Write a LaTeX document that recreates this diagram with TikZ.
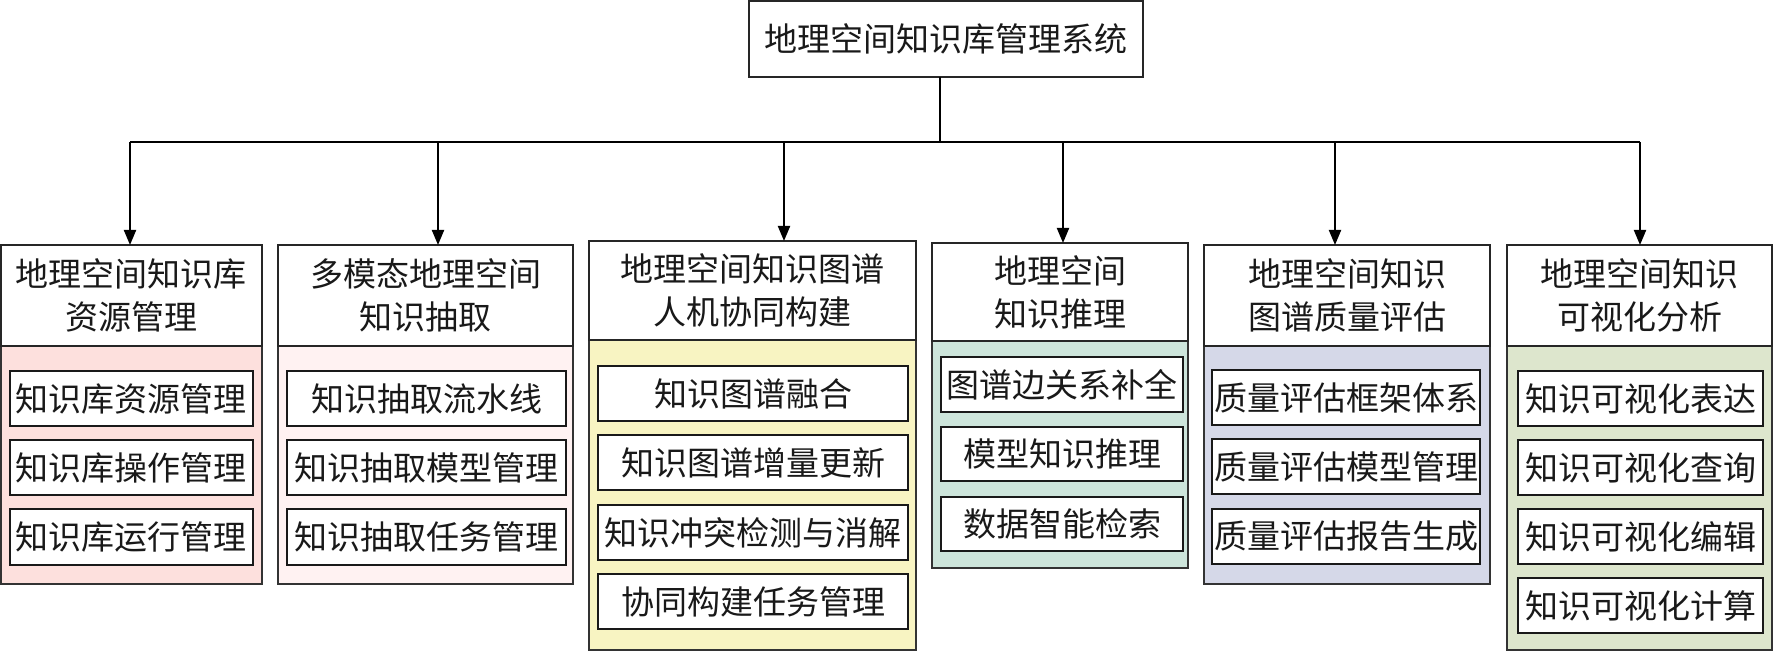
\documentclass[tikz,border=0pt]{standalone}
\usepackage{fontspec}
\newfontfamily\cjk{Noto Sans CJK SC}
\usetikzlibrary{arrows.meta}
\definecolor{cA}{HTML}{FDE0DD}
\definecolor{cB}{HTML}{FFF2F2}
\definecolor{cC}{HTML}{F8F4C2}
\definecolor{cD}{HTML}{CDE5DB}
\definecolor{cE}{HTML}{D5D8E8}
\definecolor{cF}{HTML}{DDE6CD}
% style, name, x1, y1, x2, y2, text (pixel coordinates)
\newcommand\mybox[7]{%
  \pgfmathsetmacro\myBW{(#5-#3)*0.5}%
  \pgfmathsetmacro\myBH{(#6-#4)*0.5}%
  \node[#1, minimum width=\myBW pt, minimum height=\myBH pt] (#2) at ({(#3+#5)/2},{(#4+#6)/2}) {#7};}
\begin{document}
\begin{tikzpicture}[x=0.5pt,y=-0.5pt,
  every node/.style={font=\cjk\fontsize{16.5pt}{21.5pt}\selectfont, inner sep=0pt, outer sep=0pt, text=black!90},
  hdr/.style={draw=black!85, line width=0.75pt, fill=white, align=center},
  body/.style={draw=black!80, line width=0.75pt},
  item/.style={draw=black!90, line width=1pt, fill=white},
  conn/.style={line width=1pt, black},
  arr/.style={conn, -{Triangle[length=7.5pt,width=6pt]}}]
\useasboundingbox (0,0) rectangle (1774,652);

\mybox{hdr}{top}{749}{1}{1143}{77}{地理空间知识库管理系统}

% column 1
\mybox{body, fill=cA}{b1}{1}{346}{262}{584}{}
\mybox{hdr}{h1}{1}{245}{262}{346}{地理空间知识库\\资源管理}
\mybox{item}{i11}{10}{371}{253}{426}{知识库资源管理}
\mybox{item}{i12}{10}{440}{253}{495}{知识库操作管理}
\mybox{item}{i13}{10}{509}{253}{565}{知识库运行管理}

% column 2
\mybox{body, fill=cB}{b2}{278}{346}{573}{584}{}
\mybox{hdr}{h2}{278}{245}{573}{346}{多模态地理空间\\知识抽取}
\mybox{item}{i21}{287}{371}{566}{426}{知识抽取流水线}
\mybox{item}{i22}{287}{440}{566}{495}{知识抽取模型管理}
\mybox{item}{i23}{287}{509}{566}{565}{知识抽取任务管理}

% column 3
\mybox{body, fill=cC}{b3}{589}{340}{916}{650}{}
\mybox{hdr}{h3}{589}{241}{916}{340}{地理空间知识图谱\\人机协同构建}
\mybox{item}{i31}{598}{366}{908}{421}{知识图谱融合}
\mybox{item}{i32}{598}{435}{908}{490}{知识图谱增量更新}
\mybox{item}{i33}{598}{505}{908}{560}{知识冲突检测与消解}
\mybox{item}{i34}{598}{574}{908}{629}{协同构建任务管理}

% column 4
\mybox{body, fill=cD}{b4}{932}{341}{1188}{568}{}
\mybox{hdr}{h4}{932}{243}{1188}{341}{地理空间\\知识推理}
\mybox{item}{i41}{941}{357}{1183}{412}{图谱边关系补全}
\mybox{item}{i42}{941}{427}{1183}{481}{模型知识推理}
\mybox{item}{i43}{941}{497}{1183}{551}{数据智能检索}

% column 5
\mybox{body, fill=cE}{b5}{1204}{346}{1490}{584}{}
\mybox{hdr}{h5}{1204}{245}{1490}{346}{地理空间知识\\图谱质量评估}
\mybox{item}{i51}{1212}{370}{1480}{425}{质量评估框架体系}
\mybox{item}{i52}{1212}{439}{1480}{494}{质量评估模型管理}
\mybox{item}{i53}{1212}{509}{1480}{564}{质量评估报告生成}

% column 6
\mybox{body, fill=cF}{b6}{1507}{346}{1772}{650}{}
\mybox{hdr}{h6}{1507}{245}{1772}{346}{地理空间知识\\可视化分析}
\mybox{item}{i61}{1518}{371}{1763}{426}{知识可视化表达}
\mybox{item}{i62}{1518}{440}{1763}{495}{知识可视化查询}
\mybox{item}{i63}{1518}{509}{1763}{564}{知识可视化编辑}
\mybox{item}{i64}{1518}{578}{1763}{633}{知识可视化计算}

% connectors
\coordinate (tj) at (940,142);
\coordinate (a1) at (130,142);
\coordinate (a2) at (438,142);
\coordinate (a3) at (784,142);
\coordinate (a4) at (1063,142);
\coordinate (a5) at (1335,142);
\coordinate (a6) at (1640,142);
\draw[conn] (top.south -| tj) -- (tj);
\draw[conn] (a1) -- (a6);
\draw[arr] (a1) -- (a1 |- h1.north);
\draw[arr] (a2) -- (a2 |- h2.north);
\draw[arr] (a3) -- (a3 |- h3.north);
\draw[arr] (a4) -- (a4 |- h4.north);
\draw[arr] (a5) -- (a5 |- h5.north);
\draw[arr] (a6) -- (a6 |- h6.north);
\end{tikzpicture}
\end{document}
